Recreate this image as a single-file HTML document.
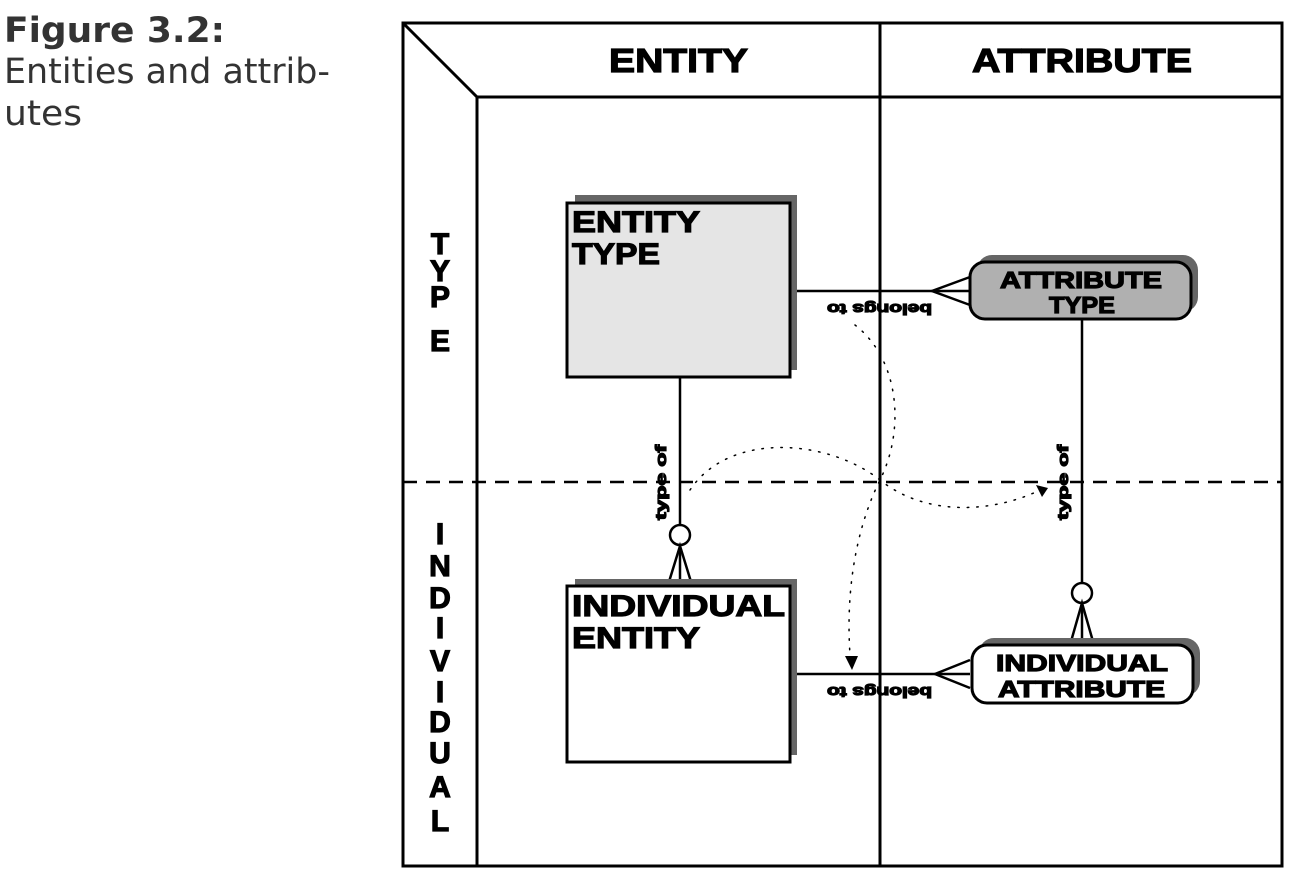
<!DOCTYPE html>
<html><head><style>
body{margin:0;background:#fff;width:1302px;height:885px;overflow:hidden}
svg{display:block}
.b{font-family:"Liberation Sans",sans-serif;font-weight:900;stroke:#000;stroke-width:1.2}
</style></head><body>
<svg width="1302" height="885" viewBox="0 0 1302 885">
<text x="4" y="42" font-family="DejaVu Sans,sans-serif" font-weight="bold" font-size="35" fill="#333" textLength="221" lengthAdjust="spacingAndGlyphs">Figure 3.2:</text>
<text x="4" y="83" font-family="DejaVu Sans,sans-serif" font-size="35" fill="#333" textLength="326" lengthAdjust="spacingAndGlyphs">Entities and attrib-</text>
<text x="4" y="125" font-family="DejaVu Sans,sans-serif" font-size="35" fill="#333" textLength="78" lengthAdjust="spacingAndGlyphs">utes</text>
<g stroke="#000" stroke-width="3" fill="none">
<rect x="403" y="23" width="879" height="843"/>
<line x1="403" y1="23" x2="477" y2="97"/>
<line x1="477" y1="97" x2="1282" y2="97"/>
<line x1="477" y1="97" x2="477" y2="866"/>
<line x1="880" y1="23" x2="880" y2="866"/>
<line x1="403" y1="482" x2="1282" y2="482" stroke-dasharray="14,9" stroke-width="2.5"/>
</g>
<text class="b" x="609" y="72" font-size="33" textLength="139" lengthAdjust="spacingAndGlyphs">ENTITY</text>
<text class="b" x="972" y="72" font-size="33" textLength="220" lengthAdjust="spacingAndGlyphs">ATTRIBUTE</text>
<g class="b" font-size="30" text-anchor="middle" stroke-width="1.6">
<text x="440" y="254">T</text><text x="440" y="281">Y</text><text x="440" y="307">P</text><text x="440" y="351">E</text>
<text x="440" y="544">I</text><text x="440" y="576">N</text><text x="440" y="608">D</text><text x="440" y="638">I</text><text x="440" y="671">V</text><text x="440" y="702">I</text><text x="440" y="732">D</text><text x="440" y="763">U</text><text x="440" y="797">A</text><text x="440" y="831">L</text>
</g>
<g stroke="#000" stroke-width="2.5" fill="none">
<line x1="790" y1="291" x2="970" y2="291"/>
<polyline points="970,277 932,291 970,305"/>
<line x1="790" y1="674" x2="970" y2="674"/>
<polyline points="970,660 935,674 970,688"/>
<line x1="680" y1="377" x2="680" y2="525"/>
<circle cx="680" cy="535" r="10" fill="#fff"/>
<polyline points="668,585 680,546 692,585"/><line x1="680" y1="546" x2="680" y2="585"/>
<line x1="1082" y1="319" x2="1082" y2="583"/>
<circle cx="1082" cy="593" r="10" fill="#fff"/>
<polyline points="1070,645 1082,603 1094,645"/><line x1="1082" y1="603" x2="1082" y2="645"/>
</g>
<g stroke="#000" stroke-width="1.5" fill="none" stroke-dasharray="1.5,8" stroke-linecap="round">
<path d="M855,325 C900,360 905,430 880,480 C860,520 845,580 850,655"/>
<path d="M690,490 C730,430 830,440 880,480 C930,520 1000,510 1040,490"/>
</g>
<polygon points="852,670 845,656 858,656" fill="#000"/>
<polygon points="1048,488 1036,485 1042,497" fill="#000"/>
<g class="b" font-size="15" stroke-width="0.6">
<text transform="translate(932,304) rotate(180)" textLength="105" lengthAdjust="spacingAndGlyphs">belongs to</text>
<text transform="translate(932,687) rotate(180)" textLength="105" lengthAdjust="spacingAndGlyphs">belongs to</text>
<text transform="translate(666,520) rotate(-90)" textLength="75" lengthAdjust="spacingAndGlyphs">type of</text>
<text transform="translate(1068,520) rotate(-90)" textLength="75" lengthAdjust="spacingAndGlyphs">type of</text>
</g>
<rect x="575" y="195" width="222" height="175" fill="#666"/>
<rect x="567" y="203" width="223" height="174" fill="#e5e5e5" stroke="#000" stroke-width="3"/>
<text class="b" x="572" y="232" font-size="30" textLength="128" lengthAdjust="spacingAndGlyphs">ENTITY</text>
<text class="b" x="572" y="264" font-size="30" textLength="88" lengthAdjust="spacingAndGlyphs">TYPE</text>
<rect x="575" y="579" width="222" height="176" fill="#666"/>
<rect x="567" y="586" width="223" height="176" fill="#fff" stroke="#000" stroke-width="3"/>
<text class="b" x="572" y="616" font-size="30" textLength="213" lengthAdjust="spacingAndGlyphs">INDIVIDUAL</text>
<text class="b" x="572" y="648" font-size="30" textLength="128" lengthAdjust="spacingAndGlyphs">ENTITY</text>
<rect x="977" y="255" width="221" height="57" rx="15" fill="#666"/>
<rect x="970" y="262" width="221" height="57" rx="15" fill="#b0b0b0" stroke="#000" stroke-width="3"/>
<text class="b" x="1000" y="288" font-size="23" textLength="162" lengthAdjust="spacingAndGlyphs">ATTRIBUTE</text>
<text class="b" x="1049" y="313" font-size="23" textLength="66" lengthAdjust="spacingAndGlyphs">TYPE</text>
<rect x="979" y="638" width="221" height="58" rx="15" fill="#666"/>
<rect x="972" y="645" width="221" height="58" rx="15" fill="#fff" stroke="#000" stroke-width="3"/>
<text class="b" x="996" y="671" font-size="23" textLength="172" lengthAdjust="spacingAndGlyphs">INDIVIDUAL</text>
<text class="b" x="998" y="697" font-size="23" textLength="167" lengthAdjust="spacingAndGlyphs">ATTRIBUTE</text>
</svg>
</body></html>
